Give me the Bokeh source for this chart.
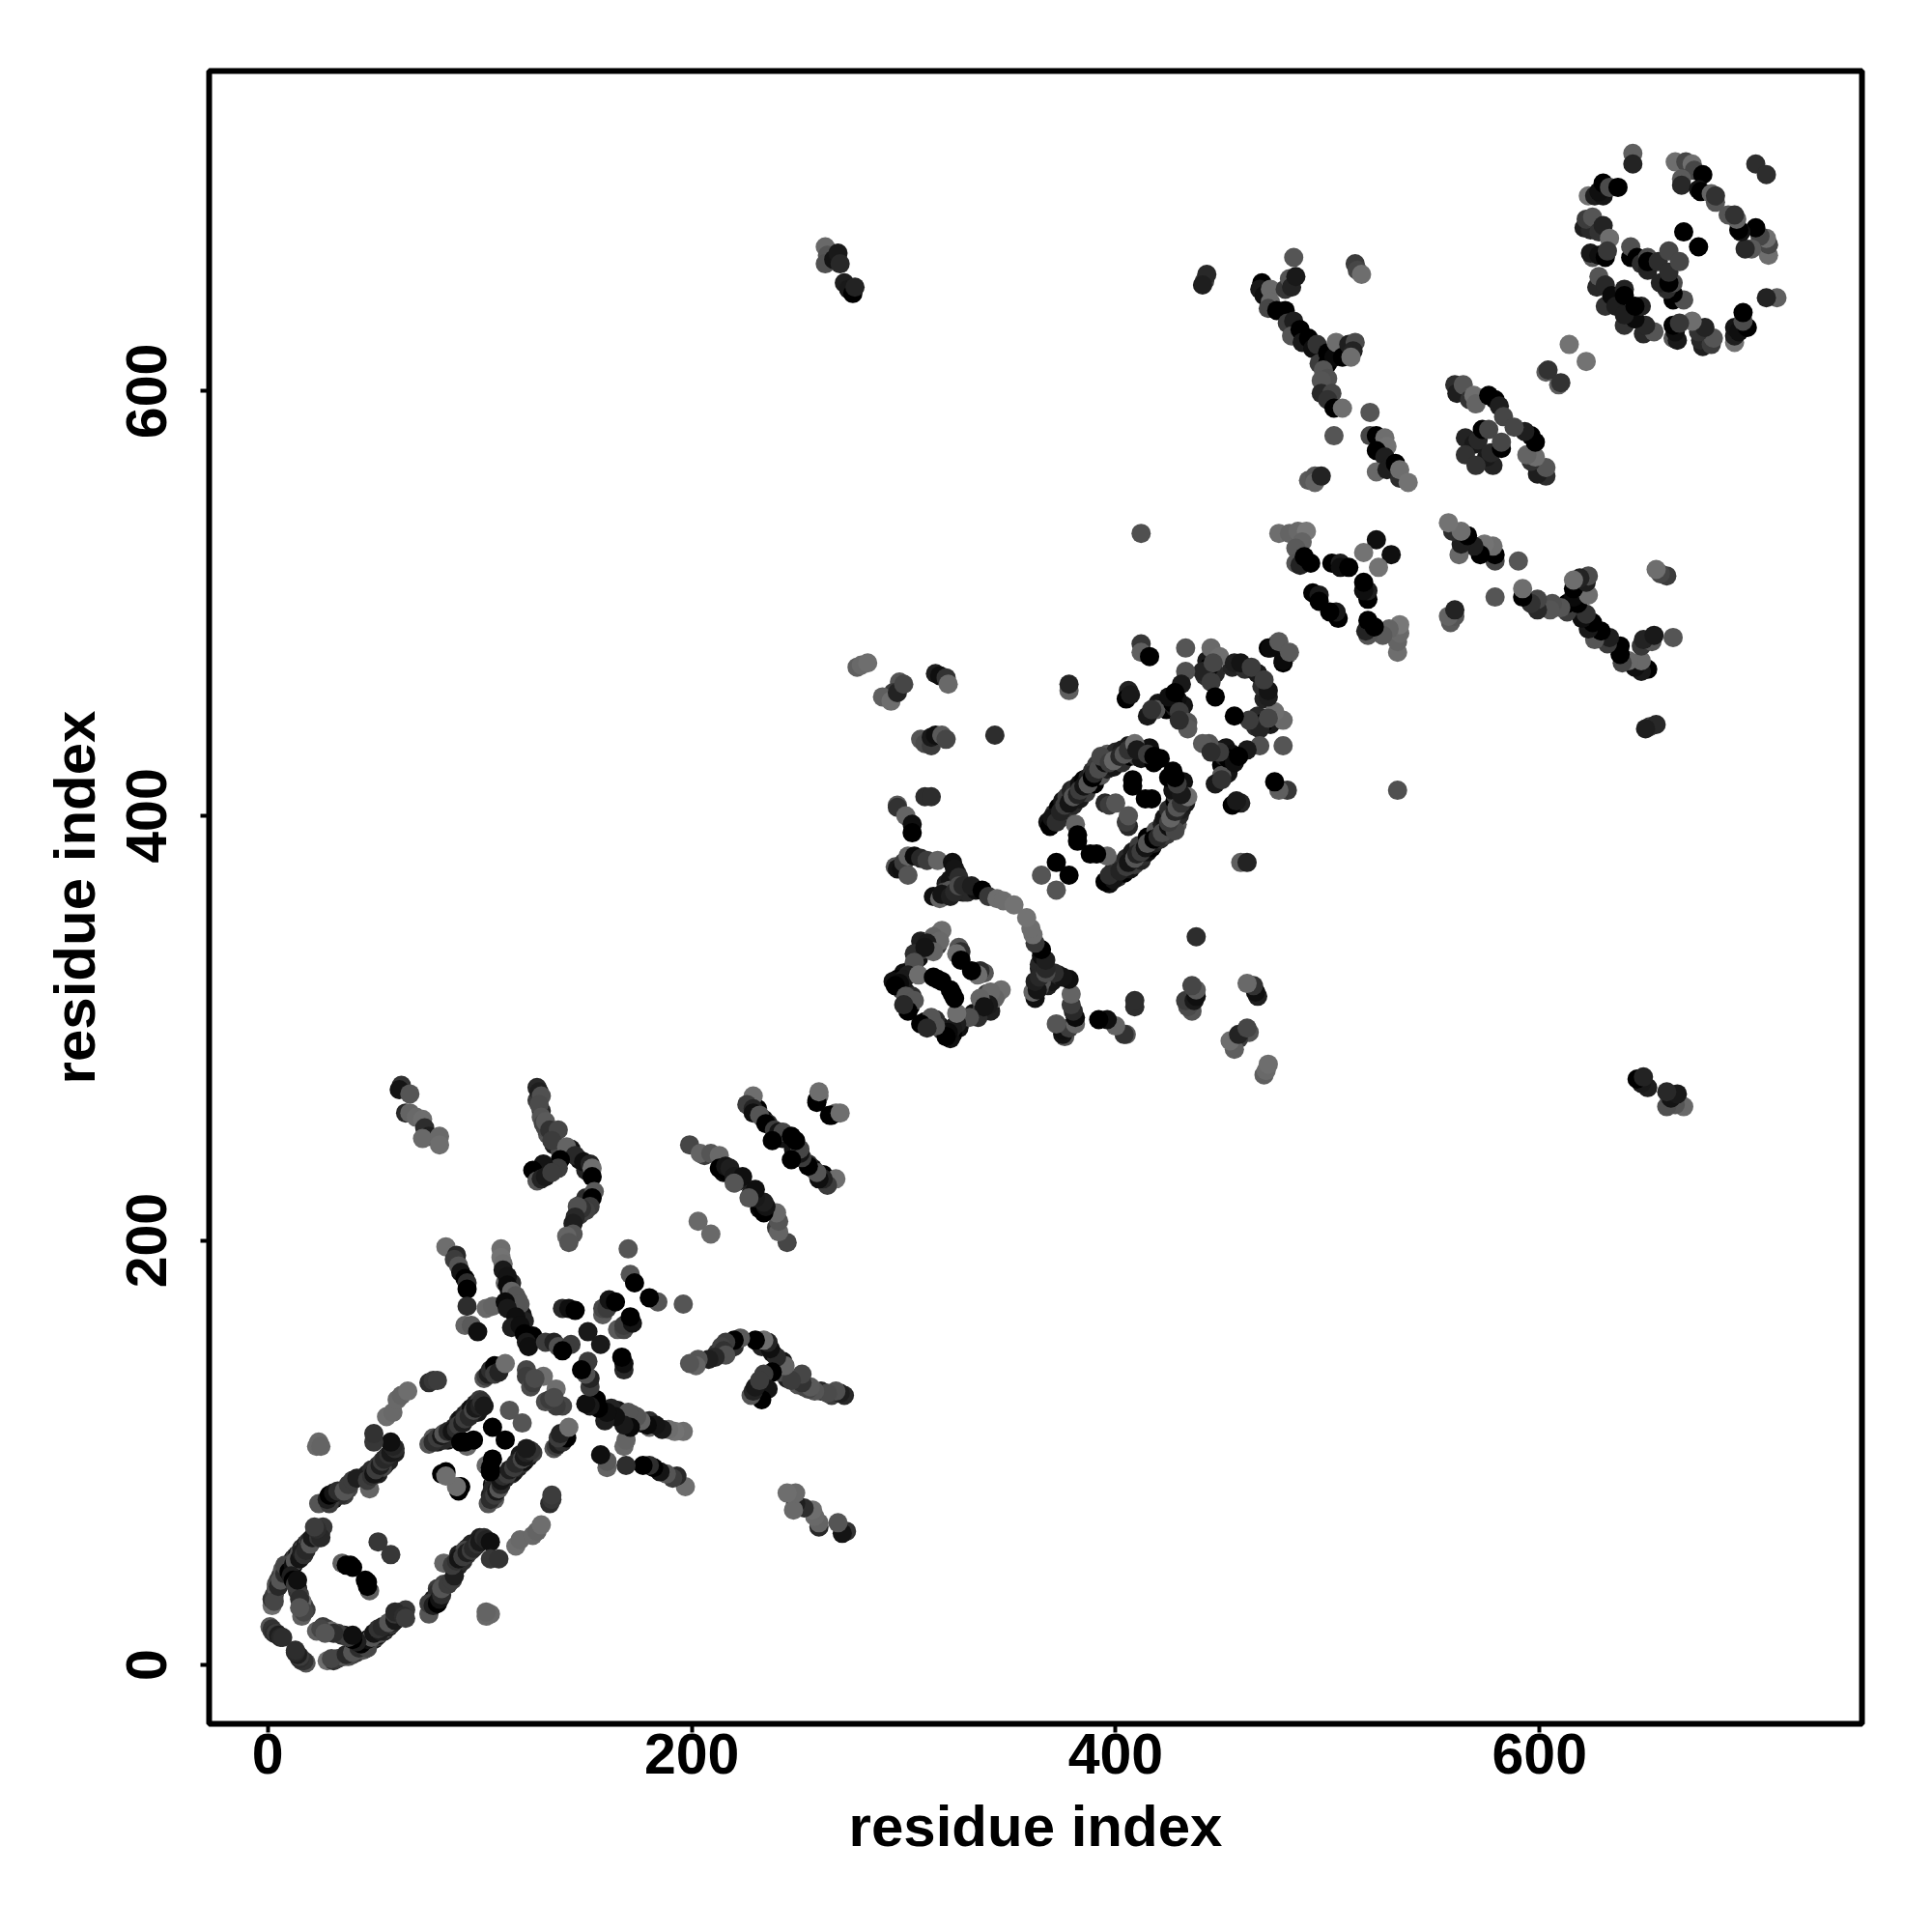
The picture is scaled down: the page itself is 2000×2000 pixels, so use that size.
from bokeh.plotting import figure
from bokeh.models import FixedTicker, ColumnDataSource
from bokeh.embed import file_html
from bokeh.resources import INLINE

# contacts as (residue i, residue j, grey level); the map is symmetric
origin_corner = [(1,18,85),(2,16,60),(2,17,50),(3,15,45),(4,15,60),(5,14,30),(6,13,40),(7,13,45),(2,28,110),(2,31,50),(3,33,60),(4,36,85),(4,38,85),(5,40,70),(6,42,60),(7,45,85),(9,46,30),(10,47,15),(11,48,0),(12,50,20),(13,51,60),(14,52,25),(15,53,85),(16,55,40),(17,55,85),(18,57,30),(19,58,60),(20,59,40),(22,60,25),(23,61,50),(24,62,40),(25,63,30),(26,65,55)]
arm_extra = [(3,30,70),(5,37,40),(6,40,85),(8,43,45),(8,47,70),(10,44,0),(12,47,15),(13,49,85),(15,50,20),(16,53,30),(17,52,50),(18,54,40),(20,57,85),(21,60,25),(24,60,55),(25,60,40),(23,64,45),(22,65,60)]
inner_arm = [(11,42,30),(12,40,0),(14,36,0),(14,35,45),(15,33,60),(16,23,95),(17,28,80),(18,26,60),(16,30,105),(13,38,60),(14,40,15),(15,31,45),(17,25,70),(15,27,85)]
inner_spots = [(35,48,95),(37,47,0),(39,47,0),(40,46,0),(52,58,55)]
upper_arm = [(36,80,60),(38,83,70),(31,78,25),(34,80,45),(46,89,25),(47,90,35),(49,92,45),(52,94,55),(55,94,25),(56,98,40),(57,96,35),(59,100,50),(60,100,30),(52,90,30),(54,93,70),(24,76,85),(29,76,60),(28,78,30),(29,80,0),(31,81,20),(33,82,45),(36,82,85),(38,85,60),(40,87,60),(42,88,30),(48,83,100),(47,87,60),(49,89,50),(50,90,20),(51,92,60),(53,94,30),(54,96,60),(55,97,40),(57,99,50),(58,100,25),(60,102,45),(59,103,35),(58,105,15),(50,105,55),(50,109,50)]
grey_arm = [(56,117,110),(59,119,105),(61,125,105),(63,127,100),(66,129,110),(76,133,45),(78,134,55),(80,134,60),(23,103,105),(24,105,105),(25,103,100)]
near_diag_a = [(88,112,30),(90,115,45),(91,116,20),(93,118,35),(95,120,50),(96,121,15),(98,123,30),(100,124,45),(99,119,25),(85,106,15),(87,107,70),(80,105,30),(78,107,90),(83,106,40),(95,105,0),(100,125,60),(76,104,85),(78,105,45),(80,107,60),(82,108,25),(83,109,85),(85,110,40),(87,110,20),(89,111,45),(90,113,60),(92,114,30),(93,116,60),(95,117,40),(97,120,70),(98,121,25),(100,122,35),(101,124,50),(102,122,25),(94,103,105),(91,105,0),(93,105,0),(97,106,0),(82,90,0),(84,90,110),(91,84,0),(89,84,110)]
diamond = [(106,112,0),(114,120,85),(102,135,85),(103,136,60),(104,137,30),(105,139,45),(107,141,0),(107,137,60),(109,138,35),(112,142,110),(122,139,70),(122,136,60),(124,131,75),(125,133,60),(130,136,110),(126,135,75)]
strand_top_a = [(63,273,50),(62,271,20),(67,269,85),(65,260,40),(67,260,100),(70,258,105),(73,257,110),(74,253,45),(76,249,30),(73,248,105),(81,249,105),(81,245,110)]
strand_top_b = [(132,250,85),(135,245,30),(139,242,40),(143,243,20),(147,238,15),(150,233,35),(138,242,75),(129,261,40),(127,266,60),(131,253,75),(127,272,40),(128,270,30),(129,268,80),(128,264,75),(129,258,85),(130,255,70),(131,256,90),(133,252,50),(137,252,70),(134,247,60),(141,244,100),(145,240,40),(138,238,0),(137,234,60),(149,237,15),(152,236,35),(153,234,110),(153,230,0),(130,236,20),(125,233,0),(127,228,85),(129,229,35),(131,230,25),(134,232,60)]
strand_top_c = [(150,218,85),(148,217,40),(147,212,55),(150,220,45),(154,223,90),(153,220,0),(152,216,60),(150,214,65),(148,215,50),(146,216,80),(145,211,40),(144,208,30),(144,203,85),(141,202,100),(142,199,85)]
cross_a = [(84,197,110),(89,193,40),(88,191,60),(90,188,85),(91,185,20),(93,182,0),(94,180,45),(94,177,0),(94,169,45),(103,168,105),(106,169,100),(93,160,100),(96,160,90),(99,157,15)]
cross_b = [(114,176,25),(116,172,30),(118,167,60),(120,165,20),(116,168,0),(118,160,30),(123,153,0),(115,180,45),(112,180,105),(118,172,90),(121,162,35),(110,196,110),(110,192,115),(111,189,110),(111,186,25),(113,183,20),(113,179,10),(115,176,100),(117,174,85),(119,170,85),(112,171,10),(113,168,25),(117,164,15),(115,159,30),(119,160,15),(121,156,0),(125,155,0),(122,152,25),(123,150,15)]
cross_c = [(131,152,60),(135,152,35),(137,150,80),(143,151,60),(139,148,0),(139,168,40),(142,168,15),(145,167,0),(151,157,25),(158,165,90),(158,168,70),(160,168,60),(161,172,20),(164,171,0),(170,196,85),(171,184,85),(173,180,0)]
centre_strands = [(206,240,60),(215,232,10),(217,232,0),(222,228,30),(231,262,0),(234,257,15),(236,255,45),(240,249,0),(243,248,20),(199,245,70),(204,241,100),(209,241,85),(213,240,105),(213,234,0),(216,235,20),(218,234,30),(220,230,25),(224,230,15),(220,227,85),(229,268,110),(226,264,60),(229,262,35),(229,260,15),(232,259,85),(235,255,0),(239,252,60),(241,251,20),(243,251,70),(238,247,0),(247,249,0),(260,268,110),(259,265,0),(266,259,0),(270,260,110),(203,209,105)]
hairpin_a = [(278,470,95),(280,471,105),(283,472,110),(298,463,85),(295,458,60),(290,456,95),(294,454,110),(297,458,35),(300,462,70),(315,467,30),(317,466,15),(320,465,50),(321,462,105),(308,436,85),(310,434,75),(313,433,60),(313,437,25),(315,438,15),(318,438,90),(320,436,70),(343,438,45),(378,459,95),(378,462,35)]
hairpin_b = [(310,409,45),(313,409,45),(297,405,90),(297,404,50),(301,400,100),(304,396,15),(304,392,0),(296,376,85),(297,375,20),(299,375,15),(300,378,60),(302,372,85),(302,381,100),(305,381,10),(308,380,40),(311,379,60),(316,379,100)]
link_strand = [(320,368,30),(322,370,20),(328,364,30),(330,364,40),(334,365,15),(323,378,15),(325,373,35),(319,364,70),(322,365,85),(324,375,20),(326,371,45),(314,362,15),(317,361,100),(318,363,20),(322,362,30),(324,364,40),(326,367,75),(328,367,40),(332,367,30),(337,365,0),(340,362,55),(344,361,110),(347,360,110),(352,358,115)]
small_loop = [(303,327,60),(305,328,35),(307,333,15),(309,337,60),(312,340,85),(316,344,100),(300,326,15),(297,323,0),(299,318,60),(301,317,20),(303,310,0),(304,315,45),(295,322,15),(308,341,30),(316,339,60),(326,338,85),(318,346,110),(314,343,100),(317,341,105),(311,340,25),(314,336,100),(305,335,45),(310,338,20),(305,331,80),(302,325,30),(300,323,25),(298,321,10),(296,320,0),(307,325,110),(314,324,0),(316,323,0),(318,322,0),(327,336,45),(325,335,110),(327,332,0),(301,315,85),(305,313,85),(302,308,0),(300,311,40)]
wide_extra = [(368,397,15),(371,401,45),(373,404,0),(375,407,20),(377,409,60),(379,412,35),(381,413,45),(383,415,15),(385,417,0),(387,418,30),(389,421,45),(391,424,60),(394,427,30),(396,429,85),(400,430,40),(403,431,30),(406,433,25),(374,399,30),(377,402,55),(380,405,40),(383,408,25),(386,411,60),(390,415,0),(393,419,85),(396,422,30),(399,423,20),(403,425,45),(407,428,0),(410,428,60),(412,427,20),(416,432,15),(418,425,0)]
wide_strand = [(369,395,0),(370,399,20),(372,397,45),(374,402,35),(376,405,60),(378,406,20),(380,409,85),(382,410,35),(383,412,60),(385,414,20),(387,415,85),(389,418,0),(390,420,40),(392,422,75),(395,425,15),(393,428,70),(397,425,60),(399,426,100),(402,428,40),(404,429,85),(406,431,50),(409,434,110),(410,431,25),(415,429,60),(418,428,0),(421,427,0)]
wide_inner = [(408,417,0),(408,414,0),(395,406,40),(397,405,60),(400,406,85),(381,396,100),(382,391,0),(382,388,0)]
pairs_mid = [(372,378,0),(365,372,85),(406,459,35),(405,455,0),(407,457,25),(412,481,55),(412,477,95),(416,475,0),(433,479,85),(442,652,60),(443,655,40),(441,650,30)]
upper_loop = [(420,453,20),(424,450,0),(428,451,30),(431,447,55),(432,452,20),(429,455,15),(443,473,25),(446,469,35),(442,466,45),(447,467,40),(447,474,80),(455,470,35),(461,469,45),(467,467,25),(445,479,105),(449,475,110),(444,470,0),(441,468,35),(446,472,70),(445,463,60),(447,456,0),(433,468,80),(431,462,25),(456,472,30),(459,472,20),(464,470,60),(472,479,0),(476,481,85),(419,450,85),(415,447,25),(417,450,50),(427,453,0),(425,456,15),(430,449,60),(428,458,0),(434,444,85),(434,441,90),(430,445,45)]
y_strand = [(469,651,0),(468,648,25),(470,645,15),(473,648,105),(473,642,105),(472,639,70),(476,638,0),(480,638,0),(481,632,60),(484,633,30),(483,626,85),(487,629,0),(488,623,25),(491,625,0),(493,620,15),(495,622,50),(496,613,60),(500,618,0),(500,613,0),(503,616,10),(504,623,110),(507,616,0),(510,622,30),(513,623,75),(512,619,35),(511,616,110),(484,663,85),(480,648,55),(482,653,85),(483,649,35),(485,654,25)]
y_down = [(498,610,85),(500,606,80),(497,605,85),(497,599,40),(502,599,70),(500,596,50),(503,592,0),(507,592,110),(520,590,85),(503,579,85),(513,660,60),(514,657,70),(516,655,110),(491,558,90),(494,560,85),(494,557,100),(497,560,35)]
short_runs = [(520,579,70),(523,579,0),(527,578,110),(528,574,115),(523,572,0),(527,569,30),(523,562,105),(528,563,30),(532,566,0),(534,559,45),(534,563,110),(538,557,115)]
x_shape = [(560,603,45),(561,599,30),(564,603,85),(567,596,50),(569,598,110),(570,594,100),(576,598,0),(579,596,0),(581,593,30),(583,588,70),(565,578,35),(569,575,25),(571,577,40),(573,582,0),(576,582,70),(565,570,50)]
loose_pairs = [(603,609,95),(604,610,50),(614,622,115),(412,533,80)]
steep_pair = [(263,668,105),(264,664,85),(263,660,80),(267,662,20),(269,665,25),(270,660,40),(272,651,30),(274,648,25),(276,646,0),(277,649,35)]
block_a = [(477,533,110),(482,533,100),(486,534,105),(490,534,120),(488,529,100),(485,526,90),(485,519,85),(487,518,35),(489,522,0),(492,519,0),(502,519,0),(506,519,30),(506,517,15),(510,517,0),(523,530,15),(517,524,115),(493,505,0),(496,504,25),(496,501,0),(473,479,10),(477,482,90)]
top_loop = [(644,712,95),(644,707,35),(623,692,115),(626,692,30),(630,692,20),(628,694,15),(630,698,0),(633,696,75),(637,696,0),(664,708,110),(669,708,70),(672,707,110),(673,704,70),(667,700,90),(667,697,40),(677,702,0),(675,695,20),(676,694,0),(681,693,100),(683,689,85),(683,692,50),(702,707,45),(668,675,0)]
left_ring = [(621,677,30),(624,676,40),(622,681,60),(625,682,85),(628,675,50),(630,678,35),(633,672,110),(625,663,85),(624,665,25),(628,664,15),(631,663,0),(632,666,55),(627,649,40),(628,654,85),(631,650,40),(631,640,50),(634,645,10),(636,640,30),(640,648,35),(640,645,0)]
ring_core = [(643,663,0),(643,668,80),(646,663,0),(648,660,45),(651,663,75),(651,657,35),(651,661,0),(656,661,45),(661,666,70)]

groups = [origin_corner, arm_extra, inner_arm, inner_spots, upper_arm, grey_arm, near_diag_a, diamond,
          strand_top_a, strand_top_b, strand_top_c, cross_a, cross_b, cross_c, centre_strands,
          hairpin_a, hairpin_b, link_strand, small_loop, wide_extra, wide_strand, wide_inner, pairs_mid,
          upper_loop, y_strand, y_down, short_runs, x_shape, loose_pairs, steep_pair, block_a,
          top_loop, left_ring, ring_core]

tick_values = [0, 200, 400, 600]
axis_title = "residue index"

xs, ys, cols = [], [], []
for g in groups:
    for i, j, v in g:
        c = "#%02x%02x%02x" % (v, v, v)
        xs += [i, j]
        ys += [j, i]
        cols += [c, c]

p = figure(width=1992, height=1992, output_backend="svg", toolbar_location=None,
           x_range=(-27.7, 752.1), y_range=(-27.7, 750.8),
           min_border_left=216, min_border_right=65, min_border_top=73, min_border_bottom=208)
p.scatter(x="x", y="y", source=ColumnDataSource(dict(x=xs, y=ys, c=cols)), marker="circle",
          size=20, fill_color="c", line_color=None)

p.grid.visible = False
p.outline_line_color = "black"
p.outline_line_width = 6
p.outline_line_alpha = 1
p.background_fill_color = "white"

for ax in (p.xaxis[0], p.yaxis[0]):
    ax.ticker = FixedTicker(ticks=tick_values)
    ax.axis_line_color = None
    ax.major_tick_line_color = "black"
    ax.major_tick_line_width = 4
    ax.major_tick_in = 0
    ax.major_tick_out = 9
    ax.minor_tick_line_color = None
    ax.axis_label = axis_title
    ax.axis_label_text_font = "Liberation Sans"
    ax.axis_label_text_font_style = "bold"
    ax.axis_label_text_font_size = "60px"
    ax.axis_label_text_color = "black"
    ax.major_label_text_font = "Liberation Sans"
    ax.major_label_text_font_style = "bold"
    ax.major_label_text_font_size = "59px"
    ax.major_label_text_color = "black"
p.yaxis[0].major_label_orientation = "vertical"
p.xaxis[0].major_label_standoff = 1
p.yaxis[0].major_label_standoff = 35
p.xaxis[0].axis_label_standoff = 18
p.yaxis[0].axis_label_standoff = 18

open("out.html", "w").write(file_html(p, INLINE))
